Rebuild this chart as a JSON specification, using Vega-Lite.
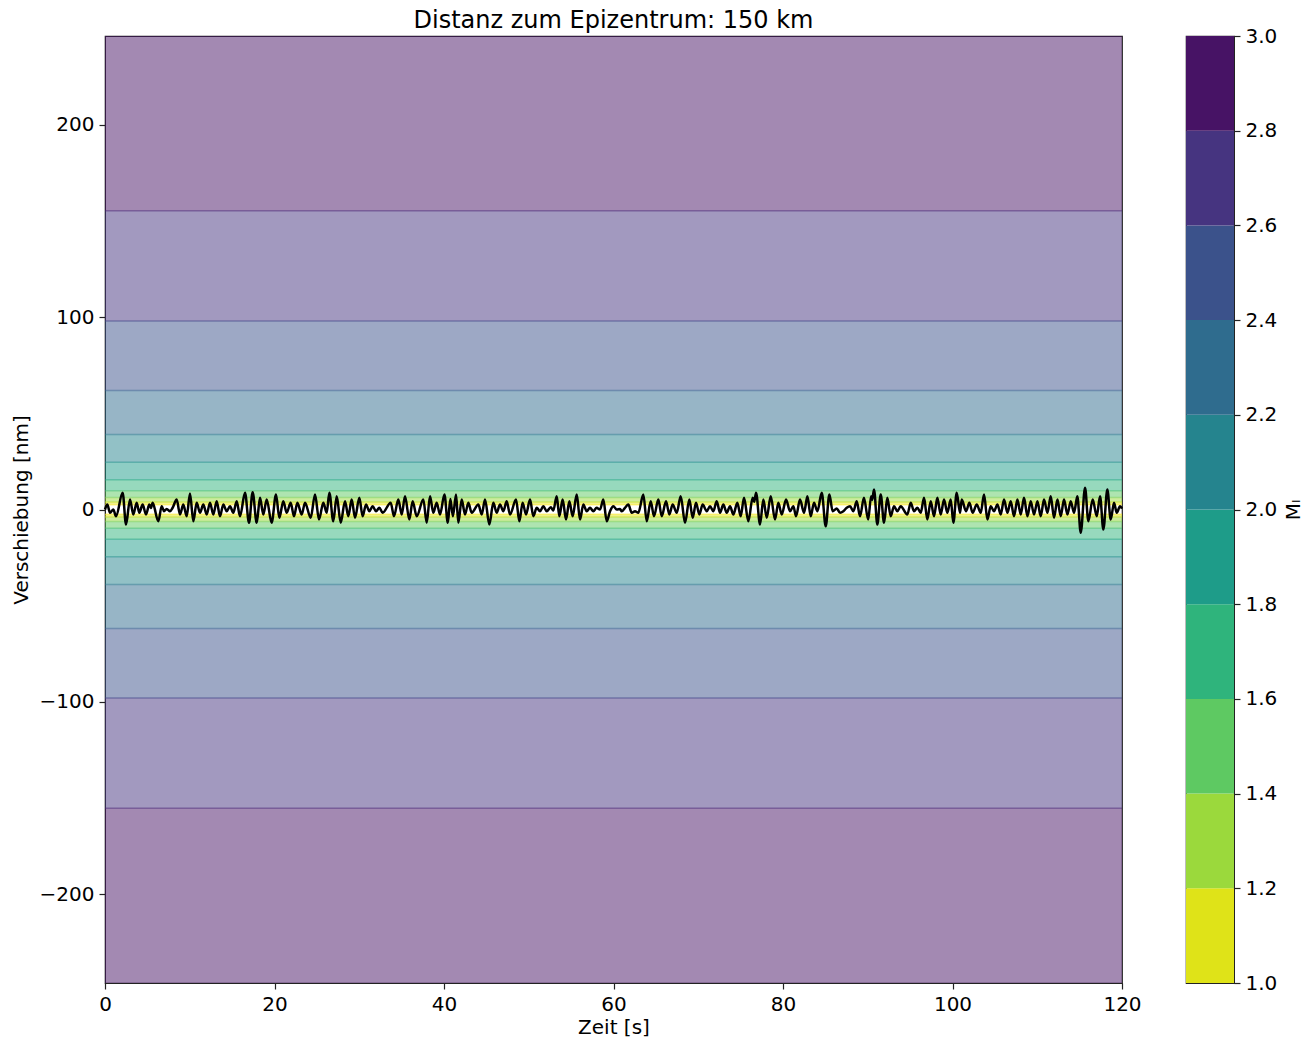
{
  "$schema": "https://vega.github.io/schema/vega-lite/v6.json",
  "padding": {"left": 10, "top": 8, "right": 5, "bottom": 0},
  "background": "white",
  "config": {
    "font": "DejaVu Sans",
    "view": {"stroke": "#222222", "strokeWidth": 1.2},
    "axis": {
      "domainColor": "#222222", "tickColor": "#222222", "tickSize": 6, "tickWidth": 1.2,
      "labelFontSize": 20, "titleFontSize": 20, "labelColor": "black", "titleColor": "black",
      "titleFontWeight": "normal", "grid": false, "labelPadding": 5, "labelFlush": false,
      "labelFont": "DejaVu Sans", "titleFont": "DejaVu Sans"
    }
  },
  "datasets": {
    "bands": [
      {"lo": 2.46, "hi": 3.90, "b": "1.0"}, {"lo": -3.90, "hi": -2.46, "b": "1.0"},
      {"lo": 3.90, "hi": 6.18, "b": "1.2"}, {"lo": -6.18, "hi": -3.90, "b": "1.2"},
      {"lo": 6.18, "hi": 9.80, "b": "1.4"}, {"lo": -9.80, "hi": -6.18, "b": "1.4"},
      {"lo": 9.80, "hi": 15.5, "b": "1.6"}, {"lo": -15.5, "hi": -9.80, "b": "1.6"},
      {"lo": 15.5, "hi": 24.6, "b": "1.8"}, {"lo": -24.6, "hi": -15.5, "b": "1.8"},
      {"lo": 24.6, "hi": 39.0, "b": "2.0"}, {"lo": -39.0, "hi": -24.6, "b": "2.0"},
      {"lo": 39.0, "hi": 61.8, "b": "2.2"}, {"lo": -61.8, "hi": -39.0, "b": "2.2"},
      {"lo": 61.8, "hi": 97.9, "b": "2.4"}, {"lo": -97.9, "hi": -61.8, "b": "2.4"},
      {"lo": 97.9, "hi": 155.2, "b": "2.6"}, {"lo": -155.2, "hi": -97.9, "b": "2.6"},
      {"lo": 155.2, "hi": 246, "b": "2.8"}, {"lo": -246, "hi": -155.2, "b": "2.8"}
    ],
    "lines": [
      {"a": 2.46, "l": "L1.0"}, {"a": -2.46, "l": "L1.0"},
      {"a": 3.90, "l": "L1.2"}, {"a": -3.90, "l": "L1.2"},
      {"a": 6.18, "l": "L1.4"}, {"a": -6.18, "l": "L1.4"},
      {"a": 9.80, "l": "L1.6"}, {"a": -9.80, "l": "L1.6"},
      {"a": 15.5, "l": "L1.8"}, {"a": -15.5, "l": "L1.8"},
      {"a": 24.6, "l": "L2.0"}, {"a": -24.6, "l": "L2.0"},
      {"a": 39.0, "l": "L2.2"}, {"a": -39.0, "l": "L2.2"},
      {"a": 61.8, "l": "L2.4"}, {"a": -61.8, "l": "L2.4"},
      {"a": 97.9, "l": "L2.6"}, {"a": -97.9, "l": "L2.6"},
      {"a": 155.2, "l": "L2.8"}, {"a": -155.2, "l": "L2.8"}
    ],
    "cbar": [
      {"lo": 1.0, "hi": 1.2, "b": "1.0"}, {"lo": 1.2, "hi": 1.4, "b": "1.2"},
      {"lo": 1.4, "hi": 1.6, "b": "1.4"}, {"lo": 1.6, "hi": 1.8, "b": "1.6"},
      {"lo": 1.8, "hi": 2.0, "b": "1.8"}, {"lo": 2.0, "hi": 2.2, "b": "2.0"},
      {"lo": 2.2, "hi": 2.4, "b": "2.2"}, {"lo": 2.4, "hi": 2.6, "b": "2.4"},
      {"lo": 2.6, "hi": 2.8, "b": "2.6"}, {"lo": 2.8, "hi": 3.0, "b": "2.8"}
    ],
    "sig": [
      {"t": 0.0, "v": 0}, {"t": 0.28, "v": 2.6}, {"t": 0.59, "v": -1.7}, {"t": 0.98, "v": 0}, {"t": 1.30, "v": -3.5},
      {"t": 2.08, "v": 8.7}, {"t": 2.48, "v": -7.8}, {"t": 2.95, "v": 5.2}, {"t": 3.34, "v": -2.6}, {"t": 3.74, "v": 3.5},
      {"t": 4.05, "v": -1.7}, {"t": 4.44, "v": 2.6}, {"t": 4.84, "v": -2.6}, {"t": 5.23, "v": 2.6}, {"t": 5.42, "v": 0.8},
      {"t": 5.62, "v": 3.5}, {"t": 6.29, "v": -6.1}, {"t": 6.69, "v": 1.7}, {"t": 6.96, "v": -0.9}, {"t": 7.28, "v": 0.3},
      {"t": 7.67, "v": -0.9}, {"t": 7.98, "v": 0.9}, {"t": 8.46, "v": 5.2}, {"t": 8.85, "v": -2.6}, {"t": 9.24, "v": 2.6},
      {"t": 9.64, "v": -3.5}, {"t": 10.03, "v": 8.3}, {"t": 10.42, "v": -6.1}, {"t": 10.82, "v": 3.5}, {"t": 11.21, "v": -1.7},
      {"t": 11.60, "v": 2.6}, {"t": 12.00, "v": -2.6}, {"t": 12.39, "v": 3.5}, {"t": 12.78, "v": -2.6}, {"t": 13.18, "v": 4.3},
      {"t": 13.57, "v": -3.5}, {"t": 13.96, "v": 2.6}, {"t": 14.36, "v": -0.9}, {"t": 14.75, "v": 1.7}, {"t": 15.14, "v": -1.7},
      {"t": 15.54, "v": 4.3}, {"t": 15.93, "v": -3.5}, {"t": 16.52, "v": 8.7}, {"t": 16.99, "v": -6.9}, {"t": 17.42, "v": 9.0},
      {"t": 17.90, "v": -6.9}, {"t": 18.29, "v": 6.1}, {"t": 18.68, "v": -2.6}, {"t": 19.08, "v": 5.2}, {"t": 19.66, "v": -6.9},
      {"t": 20.18, "v": 7.8}, {"t": 20.57, "v": -4.3}, {"t": 21.04, "v": 4.3}, {"t": 21.44, "v": -1.7}, {"t": 21.91, "v": 3.5},
      {"t": 22.30, "v": -3.5}, {"t": 22.70, "v": 3.5}, {"t": 23.21, "v": -2.6}, {"t": 23.60, "v": 3.5}, {"t": 24.27, "v": -4.3},
      {"t": 24.78, "v": 7.8}, {"t": 25.25, "v": -5.2}, {"t": 25.76, "v": 3.5}, {"t": 26.16, "v": -1.7}, {"t": 26.47, "v": 8.7},
      {"t": 26.94, "v": -6.1}, {"t": 27.34, "v": 6.9}, {"t": 27.81, "v": -6.9}, {"t": 28.32, "v": 4.3}, {"t": 28.71, "v": -3.5},
      {"t": 29.11, "v": 5.2}, {"t": 29.50, "v": -4.3}, {"t": 30.01, "v": 6.1}, {"t": 30.40, "v": -3.5}, {"t": 30.80, "v": 2.6},
      {"t": 31.19, "v": -0.9}, {"t": 31.58, "v": 1.7}, {"t": 31.98, "v": -0.9}, {"t": 32.37, "v": 0.9}, {"t": 32.76, "v": -1.7},
      {"t": 33.71, "v": 3.5}, {"t": 34.10, "v": -3.5}, {"t": 34.61, "v": 5.2}, {"t": 35.01, "v": -2.6}, {"t": 35.40, "v": 6.9},
      {"t": 35.91, "v": -5.2}, {"t": 36.30, "v": 4.3}, {"t": 36.78, "v": -3.5}, {"t": 37.56, "v": 5.2}, {"t": 37.96, "v": -6.9},
      {"t": 38.35, "v": 6.9}, {"t": 38.74, "v": -1.7}, {"t": 39.14, "v": 3.5}, {"t": 39.53, "v": -2.6}, {"t": 40.05, "v": 7.8},
      {"t": 40.45, "v": -6.9}, {"t": 40.75, "v": 5.5}, {"t": 41.05, "v": -3.5}, {"t": 41.42, "v": 7.8}, {"t": 41.69, "v": -6.9},
      {"t": 42.09, "v": 5.2}, {"t": 42.48, "v": -2.6}, {"t": 42.87, "v": 3.5}, {"t": 43.27, "v": -1.7}, {"t": 44.05, "v": 2.6},
      {"t": 44.45, "v": -2.6}, {"t": 44.84, "v": 5.2}, {"t": 45.35, "v": -7.8}, {"t": 45.82, "v": 3.5}, {"t": 46.22, "v": -1.7},
      {"t": 46.61, "v": 2.6}, {"t": 47.00, "v": -0.9}, {"t": 47.40, "v": 4.3}, {"t": 47.79, "v": -2.6}, {"t": 48.50, "v": 5.2},
      {"t": 48.89, "v": -6.1}, {"t": 49.28, "v": 3.5}, {"t": 49.68, "v": -2.6}, {"t": 50.15, "v": 5.2}, {"t": 50.54, "v": -3.5},
      {"t": 50.94, "v": 0.9}, {"t": 51.33, "v": -0.9}, {"t": 51.72, "v": 1.7}, {"t": 52.12, "v": -0.9}, {"t": 52.60, "v": 1.2},
      {"t": 52.90, "v": -0.5}, {"t": 53.30, "v": 6.9}, {"t": 53.61, "v": -3.5}, {"t": 54.00, "v": 5.2}, {"t": 54.40, "v": -5.2},
      {"t": 54.79, "v": 4.3}, {"t": 55.18, "v": -3.5}, {"t": 55.66, "v": 7.8}, {"t": 56.05, "v": -5.2}, {"t": 56.44, "v": 2.6},
      {"t": 56.84, "v": -0.9}, {"t": 57.23, "v": 0.9}, {"t": 57.62, "v": -0.9}, {"t": 58.01, "v": 0.9}, {"t": 58.41, "v": 0},
      {"t": 58.80, "v": 5.2}, {"t": 59.20, "v": -6.1}, {"t": 59.59, "v": -0.9}, {"t": 59.98, "v": 1.7}, {"t": 60.38, "v": 0},
      {"t": 60.77, "v": 0.3}, {"t": 60.97, "v": -0.9}, {"t": 61.36, "v": 0.9}, {"t": 61.75, "v": 2.6}, {"t": 62.15, "v": -1.7},
      {"t": 62.54, "v": -0.9}, {"t": 62.93, "v": -1.7}, {"t": 63.52, "v": 7.8}, {"t": 63.92, "v": -6.1}, {"t": 64.39, "v": 4.3},
      {"t": 64.78, "v": -3.5}, {"t": 65.29, "v": 5.2}, {"t": 65.69, "v": -3.5}, {"t": 66.20, "v": 4.3}, {"t": 66.59, "v": -2.6},
      {"t": 66.98, "v": 2.6}, {"t": 67.46, "v": -1.7}, {"t": 67.93, "v": 6.9}, {"t": 68.44, "v": -6.9}, {"t": 68.95, "v": 5.2},
      {"t": 69.34, "v": -4.3}, {"t": 69.74, "v": 3.5}, {"t": 70.13, "v": -2.6}, {"t": 70.52, "v": 2.6}, {"t": 71.00, "v": -0.9},
      {"t": 71.39, "v": 1.7}, {"t": 71.78, "v": -0.9}, {"t": 72.18, "v": 4.3}, {"t": 72.57, "v": -1.7}, {"t": 72.96, "v": 2.6},
      {"t": 73.36, "v": -1.7}, {"t": 73.75, "v": 1.7}, {"t": 74.14, "v": -2.6}, {"t": 74.61, "v": 3.5}, {"t": 75.01, "v": -3.5},
      {"t": 75.40, "v": 6.1}, {"t": 75.91, "v": -6.1}, {"t": 76.42, "v": 6.1}, {"t": 76.60, "v": 4.0}, {"t": 76.82, "v": 8.7},
      {"t": 77.29, "v": -7.8}, {"t": 77.68, "v": 5.2}, {"t": 78.08, "v": -4.3}, {"t": 78.55, "v": 6.9}, {"t": 79.06, "v": -5.2},
      {"t": 79.45, "v": 3.5}, {"t": 79.85, "v": -2.6}, {"t": 80.36, "v": 5.2}, {"t": 80.83, "v": -0.9}, {"t": 81.22, "v": 1.7},
      {"t": 81.54, "v": -3.5}, {"t": 82.01, "v": 5.2}, {"t": 82.48, "v": -1.7}, {"t": 82.88, "v": 6.9}, {"t": 83.27, "v": -3.5},
      {"t": 83.66, "v": 3.5}, {"t": 84.06, "v": -0.9}, {"t": 84.57, "v": 8.7}, {"t": 85.04, "v": -8.7}, {"t": 85.47, "v": 7.8},
      {"t": 85.86, "v": -0.9}, {"t": 86.34, "v": 0.5}, {"t": 86.73, "v": -1.7}, {"t": 87.12, "v": -0.9}, {"t": 87.52, "v": 0.9},
      {"t": 87.91, "v": 1.7}, {"t": 88.30, "v": -0.9}, {"t": 88.70, "v": 4.3}, {"t": 89.09, "v": -3.5}, {"t": 89.55, "v": 6.1},
      {"t": 90.05, "v": -5.2}, {"t": 90.40, "v": 6.9}, {"t": 90.52, "v": 5.0}, {"t": 90.74, "v": 10.4}, {"t": 91.13, "v": -7.8},
      {"t": 91.53, "v": 7.8}, {"t": 91.92, "v": -6.9}, {"t": 92.31, "v": 6.1}, {"t": 92.71, "v": -3.5}, {"t": 93.10, "v": 1.7},
      {"t": 93.49, "v": -0.9}, {"t": 93.89, "v": 1.7}, {"t": 94.67, "v": -2.6}, {"t": 95.07, "v": 3.5}, {"t": 95.46, "v": -0.9},
      {"t": 95.85, "v": 0.9}, {"t": 96.25, "v": -1.7}, {"t": 96.64, "v": 6.1}, {"t": 97.03, "v": -5.2}, {"t": 97.43, "v": 4.3},
      {"t": 97.82, "v": -3.5}, {"t": 98.21, "v": 6.1}, {"t": 98.61, "v": -2.6}, {"t": 99.00, "v": 5.2}, {"t": 99.39, "v": -1.7},
      {"t": 99.79, "v": 5.2}, {"t": 100.10, "v": -6.9}, {"t": 100.50, "v": 8.7}, {"t": 100.89, "v": -1.7}, {"t": 101.09, "v": 5.2},
      {"t": 101.60, "v": -0.9}, {"t": 101.99, "v": 3.5}, {"t": 102.38, "v": -1.7}, {"t": 102.86, "v": 2.6}, {"t": 103.33, "v": -1.7},
      {"t": 103.72, "v": 7.8}, {"t": 104.12, "v": -5.2}, {"t": 104.51, "v": 1.7}, {"t": 104.90, "v": -0.9}, {"t": 105.30, "v": 2.6},
      {"t": 105.69, "v": -2.6}, {"t": 106.08, "v": 5.2}, {"t": 106.48, "v": -1.7}, {"t": 106.87, "v": 4.3}, {"t": 107.26, "v": -3.5},
      {"t": 107.66, "v": 5.2}, {"t": 108.05, "v": -2.6}, {"t": 108.44, "v": 6.1}, {"t": 108.84, "v": -3.5}, {"t": 109.23, "v": 4.3},
      {"t": 109.62, "v": -2.6}, {"t": 110.02, "v": 4.3}, {"t": 110.41, "v": -3.5}, {"t": 110.80, "v": 5.2}, {"t": 111.20, "v": -1.7},
      {"t": 111.59, "v": 6.9}, {"t": 111.98, "v": -4.3}, {"t": 112.38, "v": 5.2}, {"t": 112.77, "v": -3.5}, {"t": 113.16, "v": 5.2},
      {"t": 113.56, "v": -2.6}, {"t": 113.95, "v": 4.3}, {"t": 114.34, "v": -1.7}, {"t": 114.73, "v": 6.9}, {"t": 115.13, "v": -12.1},
      {"t": 115.64, "v": 11.3}, {"t": 116.03, "v": -6.1}, {"t": 116.54, "v": 5.2}, {"t": 117.02, "v": -3.5}, {"t": 117.41, "v": 6.9},
      {"t": 117.80, "v": -10.4}, {"t": 118.27, "v": 10.4}, {"t": 118.67, "v": -5.2}, {"t": 119.06, "v": 3.5}, {"t": 119.38, "v": -1.7},
      {"t": 119.77, "v": 1.7}, {"t": 120.0, "v": 0.5}
    ]
  },
  "spacing": 43,
  "resolve": {"scale": {"x": "independent", "y": "independent", "color": "independent"}},
  "hconcat": [
    {
      "width": 1017,
      "height": 947,
      "title": {"text": "Distanz zum Epizentrum: 150 km", "fontSize": 24, "fontWeight": "normal", "font": "DejaVu Sans", "color": "black", "offset": 3},
      "resolve": {"scale": {"color": "independent"}},
      "layer": [
        {
          "data": {"name": "bands"},
          "mark": {"type": "rect", "opacity": 0.5},
          "encoding": {
            "x": {"datum": 0, "type": "quantitative", "scale": {"domain": [0, 120], "nice": false, "zero": false}},
            "x2": {"datum": 120},
            "y": {"field": "lo", "type": "quantitative", "scale": {"domain": [-246, 246], "nice": false, "zero": false}},
            "y2": {"field": "hi"},
            "color": {"field": "b", "type": "nominal", "legend": null,
              "scale": {"domain": ["1.0", "1.2", "1.4", "1.6", "1.8", "2.0", "2.2", "2.4", "2.6", "2.8"],
                        "range": ["#dfe318", "#9bd93c", "#5ec962", "#2fb47c", "#1e9c89", "#25848e", "#2f6c8e", "#3b528b", "#463480", "#471365"]}}
          }
        },
        {
          "data": {"name": "lines"},
          "mark": {"type": "rule", "opacity": 0.5, "strokeWidth": 1.5},
          "encoding": {
            "y": {"field": "a", "type": "quantitative"},
            "color": {"field": "l", "type": "nominal", "legend": null,
              "scale": {"domain": ["L1.0", "L1.2", "L1.4", "L1.6", "L1.8", "L2.0", "L2.2", "L2.4", "L2.6", "L2.8"],
                        "range": ["#fde725", "#bddf26", "#7ad151", "#44bf70", "#22a884", "#21918c", "#2a788e", "#355f8d", "#414487", "#482475"]}}
          }
        },
        {
          "data": {"name": "sig"},
          "mark": {"type": "line", "color": "black", "strokeWidth": 2.5, "interpolate": "monotone"},
          "encoding": {
            "x": {"field": "t", "type": "quantitative",
              "axis": {"title": "Zeit [s]", "values": [0, 20, 40, 60, 80, 100, 120], "titlePadding": 3}},
            "y": {"field": "v", "type": "quantitative",
              "axis": {"title": "Verschiebung [nm]", "values": [-200, -100, 0, 100, 200], "titlePadding": 8}}
          }
        }
      ]
    },
    {
      "width": 48,
      "height": 947,
      "data": {"name": "cbar"},
      "mark": "rect",
      "encoding": {
        "x": {"datum": 0, "type": "quantitative", "scale": {"domain": [0, 1]}, "axis": null},
        "x2": {"datum": 1},
        "y": {"field": "lo", "type": "quantitative", "scale": {"domain": [1, 3], "nice": false, "zero": false},
          "axis": {"orient": "right", "values": [1.0, 1.2, 1.4, 1.6, 1.8, 2.0, 2.2, 2.4, 2.6, 2.8, 3.0], "format": ".1f", "title": "Mₗ", "titlePadding": 7, "titleAngle": 270, "titleBaseline": "top"}},
        "y2": {"field": "hi"},
        "color": {"field": "b", "type": "nominal", "legend": null,
          "scale": {"domain": ["1.0", "1.2", "1.4", "1.6", "1.8", "2.0", "2.2", "2.4", "2.6", "2.8"],
                    "range": ["#dfe318", "#9bd93c", "#5ec962", "#2fb47c", "#1e9c89", "#25848e", "#2f6c8e", "#3b528b", "#463480", "#471365"]}}
      }
    }
  ]
}
